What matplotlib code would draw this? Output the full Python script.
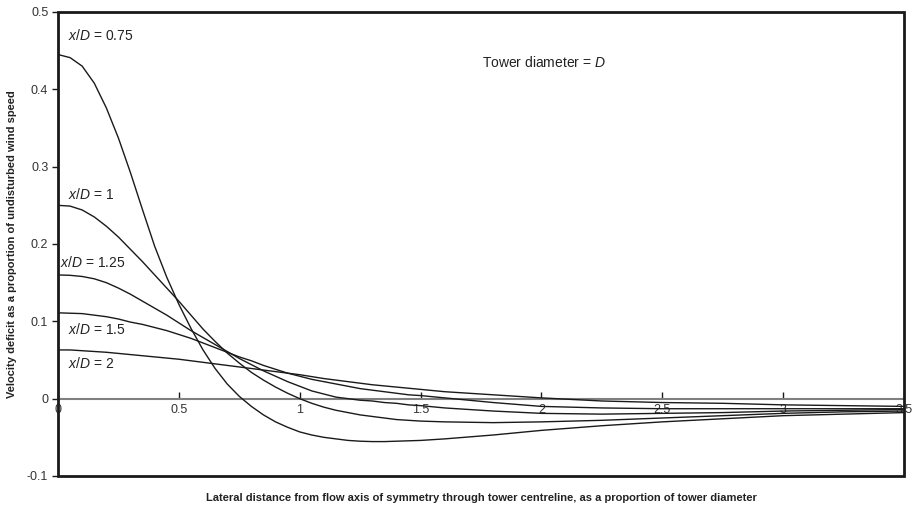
import matplotlib
matplotlib.use('Agg')
import matplotlib.pyplot as plt
from matplotlib.patches import Rectangle

plt.rcParams.update({
    'font.family': 'Liberation Sans',
    'mathtext.fontset': 'custom',
    'mathtext.rm': 'Liberation Sans',
    'mathtext.it': 'Liberation Sans:italic',
})

# lateral distance (proportion of tower diameter)
x_pos = [0, 0.05, 0.1, 0.15, 0.2, 0.25, 0.3, 0.35, 0.4, 0.45, 0.5, 0.55, 0.6,
         0.65, 0.7, 0.75, 0.8, 0.85, 0.9, 0.95, 1.0, 1.05, 1.1, 1.15, 1.2, 1.25,
         1.3, 1.35, 1.4, 1.45, 1.5, 1.6, 1.8, 2.0, 2.25, 2.5, 2.75, 3.0, 3.25, 3.5]

# velocity deficit for each downstream distance x/D
deficit_075 = [0.445, 0.441, 0.430, 0.408, 0.376, 0.337, 0.292, 0.244, 0.197, 0.157,
               0.122, 0.091, 0.063, 0.039, 0.019, 0.003, -0.010, -0.021, -0.030, -0.037,
               -0.043, -0.047, -0.050, -0.052, -0.054, -0.055, -0.0555, -0.0555, -0.055,
               -0.0545, -0.054, -0.052, -0.047, -0.041, -0.035, -0.030, -0.026, -0.022,
               -0.020, -0.018]
deficit_1 = [0.250, 0.249, 0.244, 0.235, 0.223, 0.209, 0.193, 0.177, 0.160, 0.143,
             0.126, 0.108, 0.090, 0.074, 0.059, 0.046, 0.034, 0.024, 0.015, 0.007,
             0.000, -0.006, -0.011, -0.015, -0.018, -0.021, -0.023, -0.025, -0.027,
             -0.028, -0.029, -0.030, -0.031, -0.030, -0.028, -0.025, -0.022, -0.019,
             -0.017, -0.016]
deficit_125 = [0.160, 0.1595, 0.158, 0.155, 0.150, 0.143, 0.135, 0.126, 0.117, 0.108,
               0.098, 0.088, 0.079, 0.070, 0.061, 0.052, 0.044, 0.036, 0.029, 0.022,
               0.016, 0.010, 0.006, 0.002, 0.000, -0.002, -0.003, -0.005, -0.006,
               -0.008, -0.009, -0.012, -0.016, -0.019, -0.020, -0.019, -0.018, -0.016,
               -0.015, -0.014]
deficit_15 = [0.111, 0.1105, 0.110, 0.108, 0.106, 0.103, 0.099, 0.096, 0.092, 0.088,
              0.083, 0.078, 0.072, 0.066, 0.060, 0.054, 0.049, 0.043, 0.038, 0.033,
              0.029, 0.025, 0.022, 0.019, 0.016, 0.013, 0.011, 0.009, 0.007, 0.005,
              0.004, 0.001, -0.005, -0.010, -0.012, -0.013, -0.013, -0.013, -0.013,
              -0.013]
deficit_2 = [0.063, 0.063, 0.062, 0.061, 0.060, 0.0585, 0.057, 0.0555, 0.054, 0.0525,
             0.051, 0.049, 0.047, 0.045, 0.043, 0.041, 0.039, 0.037, 0.035, 0.033,
             0.031, 0.0285, 0.026, 0.024, 0.022, 0.020, 0.018, 0.0165, 0.015, 0.0135,
             0.012, 0.009, 0.005, 0.001, -0.003, -0.005, -0.006, -0.008, -0.009,
             -0.010]

curves = [deficit_075, deficit_1, deficit_125, deficit_15, deficit_2]

# curve labels: (text, x, y)
labels = [
    ('$x$/$D$ = 0.75', 0.041, 0.469),
    ('$x$/$D$ = 1', 0.041, 0.264),
    ('$x$/$D$ = 1.25', 0.010, 0.176),
    ('$x$/$D$ = 1.5', 0.041, 0.089),
    ('$x$/$D$ = 2', 0.041, 0.046),
]

x_ticks = [0, 0.5, 1, 1.5, 2, 2.5, 3, 3.5]
x_ticklabels = ['0', '0.5', '1', '1.5', '2', '2.5', '3', '3.5']
y_ticks = [-0.1, 0, 0.1, 0.2, 0.3, 0.4, 0.5]
y_ticklabels = ['-0.1', '0', '0.1', '0.2', '0.3', '0.4', '0.5']

fig = plt.figure(figsize=(9.14, 5.11), dpi=100)
ax = fig.add_axes([58 / 914, 1 - 476 / 511, 846 / 914, 464 / 511])

for ys in curves:
    ax.plot(x_pos, ys, color='#1a1a1a', linewidth=1.0, zorder=3)

for txt, tx, ty in labels:
    ax.text(tx, ty, txt, fontsize=10, ha='left', va='center', color='#222222')

ax.text(1.756, 0.435, 'Tower diameter = $D$', fontsize=10, ha='left',
        va='center', color='#222222')

ax.set_xlim(0, 3.5)
ax.set_ylim(-0.1, 0.5)

# x axis drawn through zero in grey, frame drawn as a box
for s in ['top', 'left', 'right']:
    ax.spines[s].set_visible(False)
ax.spines['bottom'].set_position(('data', 0))
ax.spines['bottom'].set_color('#808080')
ax.spines['bottom'].set_linewidth(1.5)
ax.spines['bottom'].set_zorder(2)

ax.add_patch(Rectangle((0, 0), 1, 1, transform=ax.transAxes, fill=False,
                       edgecolor='#1a1a1a', linewidth=2.0, clip_on=False, zorder=4))

ax.set_xticks(x_ticks)
ax.set_xticklabels(x_ticklabels)
ax.set_yticks(y_ticks)
ax.set_yticklabels(y_ticklabels)
ax.tick_params(axis='x', direction='in', length=5, width=1, color='#1a1a1a',
               labelsize=9, labelcolor='#333333', pad=4)
ax.tick_params(axis='y', direction='out', length=4, width=1, color='#1a1a1a',
               labelsize=9, labelcolor='#333333', pad=3)

fig.text(12 / 914, 1 - 244 / 511,
         'Velocity deficit as a proportion of undisturbed wind speed',
         rotation=90, ha='center', va='center', fontsize=8, fontweight='bold',
         color='#222222')
fig.text(481 / 914, 1 - 498 / 511,
         'Lateral distance from flow axis of symmetry through tower centreline, '
         'as a proportion of tower diameter',
         ha='center', va='center', fontsize=8, fontweight='bold', color='#222222')

fig.savefig('out.png', dpi=100)
